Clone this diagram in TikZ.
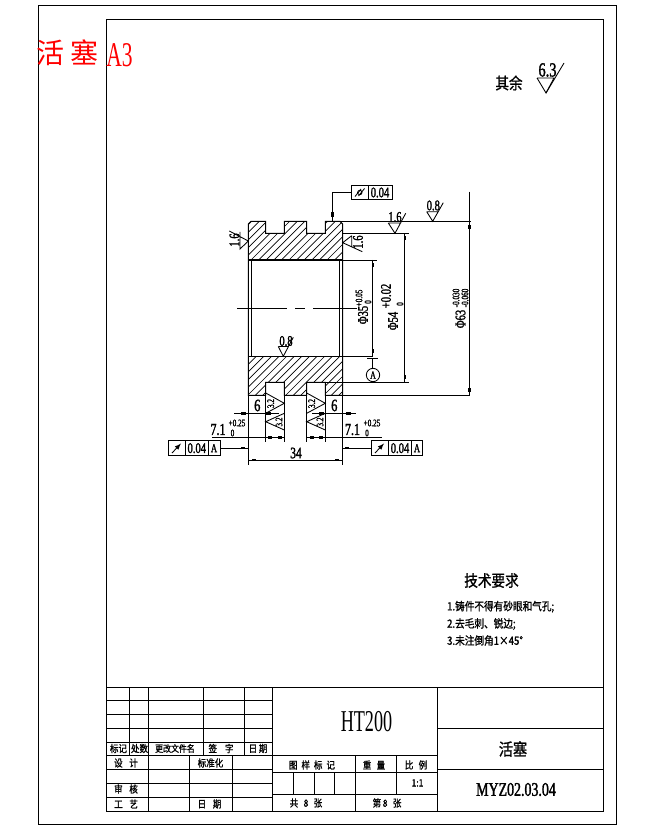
\documentclass[tikz,border=0pt]{standalone}
\usepackage{fontspec}
\setmainfont{Liberation Serif}
\newfontfamily\narrowfont[FakeStretch=0.72,FakeBold=1.5]{Liberation Serif}
\newfontfamily\cjkfont[FakeStretch=0.85,FakeBold=1.2]{Noto Sans CJK SC}
\newfontfamily\titlefont{Noto Sans CJK SC}
\tikzset{
  dim/.style={font=\narrowfont\fontsize{11}{12}\selectfont, inner sep=0pt},
  bigdim/.style={font=\narrowfont\fontsize{12.5}{13}\selectfont, inner sep=0pt},
  tol/.style={font=\narrowfont\fontsize{7.5}{8}\selectfont, inner sep=0pt},
  label/.style={font=\cjkfont\fontsize{7.5}{8}\selectfont, inner sep=0pt},
  note/.style={font=\cjkfont\fontsize{8.5}{10}\selectfont, inner sep=0pt, anchor=west},
  frame/.style={line width=0.75pt},
  fcf/.style={draw, line width=0.7pt, inner sep=0pt, minimum height=11pt, anchor=west}
}
\begin{document}
\begin{tikzpicture}[x=0.75pt,y=-0.75pt,line width=0.65pt]
\useasboundingbox (0,0) rectangle (654,830);
% frames
\draw[frame] (38,6) rectangle (616.3,824.3);
\draw[frame] (106.3,19.3) rectangle (603.3,811.3);
\node[font=\titlefont\fontsize{21}{24}\selectfont, text=red, inner sep=0pt] (title) at (67.5,53) {活\hspace{5pt}塞};
\node[font=\fontsize{26}{28}\selectfont, text=red, inner sep=0pt, xscale=0.62, transform shape] (titlea) at (119.5,55) {A3};
% roughness note
\node[font=\cjkfont\fontsize{12}{14}\selectfont, inner sep=0pt] (rest) at (509,83) {其余};
\node[font=\narrowfont\fontsize{15}{16}\selectfont, inner sep=0pt] (r63) at (547.5,70) {6.3};
\draw (537,78) -- (554,78) -- (546,93) -- (537,78);
\draw (546,93) -- (564,63);
% hatching
\begin{scope}
  \clip (248.3,224) -- (251,221.3) -- (265.7,221.3) -- (265.7,233.3) -- (284.3,233.3) -- (284.3,221.3) -- (306.7,221.3) -- (306.7,233.3) -- (325.3,233.3) -- (325.3,221.3) -- (340,221.3) -- (342.7,224) -- (342.7,260) -- (248.3,260) -- cycle
        (248.3,356.3) -- (342.7,356.3) -- (342.7,395.3) -- (325.3,395.3) -- (325.3,382.3) -- (306.7,382.3) -- (306.7,395.3) -- (284.3,395.3) -- (284.3,382.3) -- (265.7,382.3) -- (265.7,395.3) -- (248.3,395.3) -- cycle;
  \foreach \i in {0,...,20}
    \draw[line width=0.5pt] (203+\i*7.6,270) -- ++(50,-50);
  \foreach \i in {0,...,24}
    \draw[line width=0.5pt] (200+\i*7.6,405) -- ++(50,-50);
\end{scope}
% part outline
\draw[line width=0.8pt] (248.3,224) -- (251,221.3) -- (265.7,221.3) -- (265.7,233.3) -- (284.3,233.3) -- (284.3,221.3) -- (306.7,221.3) -- (306.7,233.3) -- (325.3,233.3) -- (325.3,221.3) -- (340,221.3) -- (342.7,224) -- (342.7,395.3) -- (325.3,395.3) -- (325.3,382.3) -- (306.7,382.3) -- (306.7,395.3) -- (284.3,395.3) -- (284.3,382.3) -- (265.7,382.3) -- (265.7,395.3) -- (248.3,395.3) -- cycle;
\draw[line width=0.8pt] (248.3,260) -- (342.7,260);
\draw[line width=0.8pt] (248.3,356.3) -- (342.7,356.3);
\draw[line width=0.8pt] (251.3,260) -- (251.3,356.3);
\draw[line width=0.8pt] (339.3,260) -- (339.3,356.3);
% centre line
\draw (237.3,308.3) -- (287.3,308.3) (295,308.3) -- (305,308.3) (313.3,308.3) -- (357,308.3);
% extension lines
\draw (325.3,221.3) -- (470.5,221.3);
\draw (342.7,233.3) -- (409,233.3);
\draw (342.7,260) -- (376.7,260);
\draw (342.7,356.3) -- (373,356.3);
\draw (325.3,382.3) -- (409,382.3);
\draw (342.7,395.3) -- (470,395.3);
% diameter dimensions
\draw (372.7,260) -- (372.7,356.3);
\draw (404.7,233.3) -- (404.7,382.3);
\draw (469.3,191.7) -- (469.3,395.3);
\foreach \p in {(372.7,265),(372.7,351.3),(404.7,238),(404.7,376.7),(469.3,226.7),(469.3,390)}
  \fill \p +(-1.2,-2) rectangle +(1.2,2);
\node[dim, rotate=90] (d35) at (363,315) {Φ35};
\node[tol, rotate=90] (d35u) at (359,298) {+0.05};
\node[tol, rotate=90] (d35l) at (368,302) {0};
\node[dim, rotate=90] (d54) at (393,321) {Φ54};
\node[dim, rotate=90] (d54u) at (386,296) {+0.02};
\node[tol, rotate=90] (d54l) at (400,304) {0};
\node[dim, rotate=90] (d63) at (460.5,319) {Φ63};
\node[tol, rotate=90] (d63u) at (456,298) {-0.030};
\node[tol, rotate=90] (d63l) at (465,298) {-0.060};
% datum A
\draw (367.3,358.3) -- (378.3,358.3);
\draw (372.7,358.3) -- (372.7,368.3);
\node[draw, circle, inner sep=0pt, minimum size=10pt, font=\narrowfont\fontsize{8}{8}\selectfont] (datum) at (373,375) {A};
\draw (datum.south) -- (373,382.3);
% cylindricity frame
\node[fcf, minimum width=30.3pt] (flat) at (351.3,192.5) {};
\draw (368.3,185.3) -- (368.3,200);
\node[dim] (flatv) at (380,192.5) {0.04};
\draw (359.8,192.5) circle (2.2);
\draw (355,196.5) -- (361,189) (358.5,196) -- (364.5,188.5);
\draw (flat.west) -- (332.3,192.5) -- (332.3,221.3);
\fill (331.1,212) rectangle (333.5,217);
% roughness marks
\node[dim, rotate=90] (r16l) at (234.5,240) {1.6};
\draw (229.3,231) -- (248.3,241) -- (240,249) -- (240,232);
\node[dim, rotate=90] (r16r) at (358,242) {1.6};
\draw (351.7,235.7) -- (342.7,242.7) -- (362.3,251.7) (351.7,235.7) -- (351.7,247.5);
\node[dim] (r16t) at (395,217) {1.6};
\draw (388.3,223) -- (395,233.3) -- (405.7,213.3) (388.3,223) -- (401,223);
\node[dim] (r08t) at (433.3,205.5) {0.8};
\draw (426.7,211.7) -- (432.7,221.3) -- (443.3,202.7) (426.7,211.7) -- (438,211.7);
\node[dim] (r08b) at (286,341) {0.8};
\draw (278.3,346.5) -- (283.3,356.3) -- (293.3,337.3) (278.3,346.5) -- (288.5,346.5);
% groove extension lines
\foreach \x in {265.7,284.3,306.7,325.3}
  \draw (\x,395.3) -- (\x,441.7);
\draw (248.3,395.3) -- (248.3,464.7);
\draw (342.7,395.3) -- (342.7,464.7);
% groove roughness marks
\foreach \x in {265.7,306.7}{
  \draw (\x,393) -- (\x+18.6,403.3) -- (\x,413.3);
  \draw (\x+18.6,413.3) -- (\x,421.7) -- (\x+18.6,430);
  \node[tol, rotate=90] at (\x+5,403.5) {3.2};
  \node[tol, rotate=90] at (\x+13.3,422) {3.2};
}
% dimensions 6
\draw (234,413.3) -- (279,413.3);
\draw (312,413.3) -- (356,413.3);
\foreach \x in {243,268,321.7,348.3}
  \fill (\x-2.5,412.1) rectangle (\x+2.5,414.5);
\node[dim, font=\narrowfont\fontsize{13}{14}\selectfont] (six1) at (257.3,405.5) {6};
\node[dim, font=\narrowfont\fontsize{13}{14}\selectfont] (six2) at (334.3,405.5) {6};
% dimensions 7.1
\draw (212,437.3) -- (284.3,437.3);
\draw (306.7,437.3) -- (381.7,437.3);
\foreach \x in {270,280,312.3,320.7}
  \fill (\x-2,436.1) rectangle (\x+2,438.5);
\node[bigdim] (s71l) at (218,429.5) {7.1};
\node[tol] (s71lu) at (237,423) {+0.25};
\node[tol] (s71ll) at (232.5,433) {0};
\node[bigdim] (s71r) at (352.5,429.5) {7.1};
\node[tol] (s71ru) at (372,423) {+0.25};
\node[tol] (s71rl) at (367,433) {0};
% runout frames
\node[fcf, minimum width=38.5pt] (runl) at (168.3,448.2) {};
\draw (185.3,441) -- (185.3,455.3) (208.3,441) -- (208.3,455.3);
\node[dim] (runlv) at (196.8,448.2) {0.04};
\node[tol, font=\narrowfont\fontsize{9}{9}\selectfont] (runla) at (214,448.2) {A};
\draw[-latex] (172,453) -- (181,443.5);
\draw (runl.east) -- (248.3,448.2);
\fill (240.7,447) rectangle (244.7,449.4);
\node[fcf, minimum width=38.3pt] (runr) at (371.3,448.2) {};
\draw (388.3,441) -- (388.3,455.3) (411.7,441) -- (411.7,455.3);
\node[dim] (runrv) at (400,448.2) {0.04};
\node[tol, font=\narrowfont\fontsize{9}{9}\selectfont] (runra) at (417,448.2) {A};
\draw[-latex] (375,453) -- (384,443.5);
\draw (runr.west) -- (342.7,448.2);
\fill (345.3,447) rectangle (349.3,449.4);
% dimension 34
\draw (248.3,460) -- (342.7,460);
\fill (252,458.8) rectangle (256,461.2);
\fill (334.7,458.8) rectangle (338.7,461.2);
\node[dim, font=\narrowfont\fontsize{12}{13}\selectfont] (w34) at (296,453) {34};
% technical notes
\node[font=\cjkfont\fontsize{12}{14}\selectfont, inner sep=0pt] (req) at (491.5,580.5) {技术要求};
\node[note] (note1) at (446.7,606.7) {1.铸件不得有砂眼和气孔;};
\node[note] (note2) at (446.7,624) {2.去毛刺、锐边;};
\node[note] (note3) at (446.7,640.5) {3.未注倒角1×45°};
% title block
\draw[frame] (106.3,687.3) -- (603.3,687.3);
\foreach \y in {700.7,714.3,728.3,742.3,755.3,769.3,783.3,797}
  \draw (106.3,\y) -- (272.3,\y);
\foreach \x in {129.3,203.3,244.3}
  \draw (\x,687.3) -- (\x,755.3);
\draw (148.3,687.3) -- (148.3,811.3);
\draw (189.3,755.3) -- (189.3,811.3);
\draw (232,755.3) -- (232,811.3);
\draw[frame] (272.3,687.3) -- (272.3,811.3);
\draw[frame] (437.7,687.3) -- (437.7,811.3);
\draw (272.3,755.3) -- (437.7,755.3);
\draw (272.3,772.3) -- (437.7,772.3);
\draw (272.3,794.3) -- (437.7,794.3);
\draw (355.7,755.3) -- (355.7,811.3);
\draw (396.3,755.3) -- (396.3,794.3);
\foreach \x in {293.3,314,334.7}
  \draw (\x,772.3) -- (\x,794.3);
\draw[frame] (437.7,728.3) -- (603.3,728.3);
\draw[frame] (437.7,769.3) -- (603.3,769.3);
% title block texts
\node[label] (t1) at (118.5,748.5) {标记};
\node[label] (t2) at (139.5,748.5) {处数};
\node[label, font=\cjkfont\fontsize{7}{8}\selectfont] (t3) at (175,748.5) {更改文件名};
\node[label] (t4) at (221,748.5) {签\hspace{6pt}字};
\node[label] (t5) at (258,748.5) {日\,期};
\node[label] (t6) at (126,763) {设\hspace{5pt}计};
\node[label] (t7) at (210.5,763) {标准化};
\node[label] (t8) at (126,789) {审\hspace{5pt}核};
\node[label] (t9) at (126,804) {工\hspace{5pt}艺};
\node[label] (t10) at (209.5,804) {日\hspace{5pt}期};
\node[label] (t11) at (312,765) {图\hspace{3pt}样\hspace{3pt}标\hspace{3pt}记};
\node[label] (t12) at (374,765) {重\hspace{4pt}量};
\node[label] (t13) at (416,765) {比\hspace{4pt}例};
\node[label] (t14) at (417.5,783) {1:1};
\node[label] (t15) at (306,803) {共\hspace{4pt}8\hspace{4pt}张};
\node[label] (t16) at (387,803) {第\,8\hspace{4pt}张};
\node[font=\fontsize{22.7}{24}\selectfont, inner sep=0pt, xscale=0.6, transform shape] (mat) at (366.5,722) {HT200};
\node[font=\cjkfont\fontsize{12.5}{14}\selectfont, inner sep=0pt] (name) at (513,749) {活塞};
\node[font=\narrowfont\fontsize{14.5}{15}\selectfont, inner sep=0pt] (code) at (516,789.5) {MYZ02.03.04};
\end{tikzpicture}
\end{document}
